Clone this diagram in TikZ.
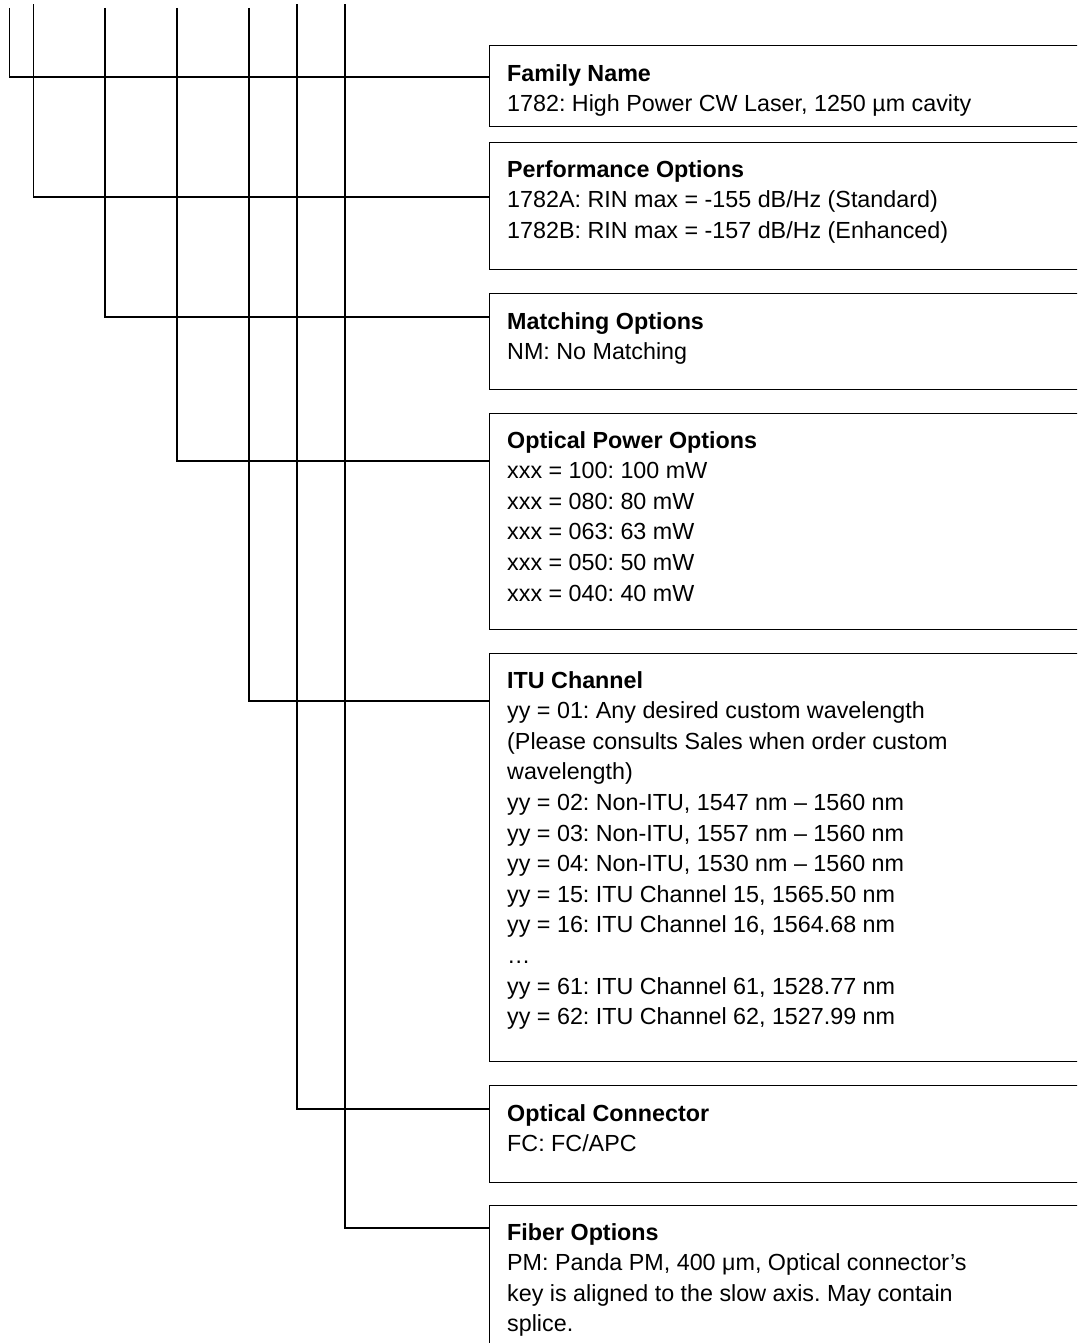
\documentclass[tikz,border=0pt]{standalone}
\usepackage{fontspec}
\setmainfont{Liberation Sans}
\usepackage{tikz}
\usetikzlibrary{positioning, calc}

\begin{document}
\begin{tikzpicture}[
  x=1pt, y=-1pt,
  optbox/.style={draw, line width=1.3pt, anchor=north west, minimum width=640pt, inner sep=0pt},
  opttext/.style={anchor=north west, align=left, inner sep=0pt, font=\fontsize{23.3}{30.6}\selectfont\frenchspacing},
  link/.style={line width=1.3pt},
]
\clip (0,0) rectangle (1077,1343);

% option boxes (right edge runs off the page)
\node[optbox, minimum height=81pt]  (fam)   at (489,45)   {};
\node[optbox, minimum height=127pt] (perf)  at (489,142)  {};
\node[optbox, minimum height=96pt]  (match) at (489,293)  {};
\node[optbox, minimum height=216pt] (power) at (489,413)  {};
\node[optbox, minimum height=408pt] (itu)   at (489,653)  {};
\node[optbox, minimum height=97pt]  (conn)  at (489,1085) {};
\node[optbox, minimum height=180pt] (fiber) at (489,1205) {};

% texts
\node[opttext] (famtxt) at ([shift={(18,19)}]fam.north west)
  {\textbf{Family Name}\\1782: High Power CW Laser, 1250 µm cavity};
\node[opttext] (perftxt) at ([shift={(18,18)}]perf.north west)
  {\textbf{Performance Options}\\1782A: RIN max = -155 dB/Hz (Standard)\\1782B: RIN max = -157 dB/Hz (Enhanced)};
\node[opttext] (matchtxt) at ([shift={(18,19)}]match.north west)
  {\textbf{Matching Options}\\NM: No Matching};
\node[opttext] (powertxt) at ([shift={(18,18)}]power.north west)
  {\textbf{Optical Power Options}\\xxx = 100: 100 mW\\xxx = 080: 80 mW\\xxx = 063: 63 mW\\xxx = 050: 50 mW\\xxx = 040: 40 mW};
\node[opttext] (itutxt) at ([shift={(18,18)}]itu.north west)
  {\textbf{ITU Channel}\\yy = 01: Any desired custom wavelength\\(Please consults Sales when order custom\\wavelength)\\yy = 02: Non-ITU, 1547 nm – 1560 nm\\yy = 03: Non-ITU, 1557 nm – 1560 nm\\yy = 04: Non-ITU, 1530 nm – 1560 nm\\yy = 15: ITU Channel 15, 1565.50 nm\\yy = 16: ITU Channel 16, 1564.68 nm\\…\\yy = 61: ITU Channel 61, 1528.77 nm\\yy = 62: ITU Channel 62, 1527.99 nm};
\node[opttext] (conntxt) at ([shift={(18,19)}]conn.north west)
  {\textbf{Optical Connector}\\FC: FC/APC};
\node[opttext] (fibertxt) at ([shift={(18,18)}]fiber.north west)
  {\textbf{Fiber Options}\\PM: Panda PM, 400 μm, Optical connector’s\\key is aligned to the slow axis. May contain\\splice.};

% code digit tops
\coordinate (t1) at (9.5,8);
\coordinate (t2) at (33.5,4.5);
\coordinate (t3) at (105,8);
\coordinate (t4) at (177,8);
\coordinate (t5) at (249,8);
\coordinate (t6) at (297,4.5);
\coordinate (t7) at (345,4.5);

\draw[link] (t1) |- ([yshift=-32pt]fam.north west);
\draw[link] (t2) |- ([yshift=-55pt]perf.north west);
\draw[link] (t3) |- ([yshift=-24pt]match.north west);
\draw[link] (t4) |- ([yshift=-48pt]power.north west);
\draw[link] (t5) |- ([yshift=-48pt]itu.north west);
\draw[link] (t6) |- ([yshift=-24pt]conn.north west);
\draw[link] (t7) |- ([yshift=-23pt]fiber.north west);
\end{tikzpicture}
\end{document}
